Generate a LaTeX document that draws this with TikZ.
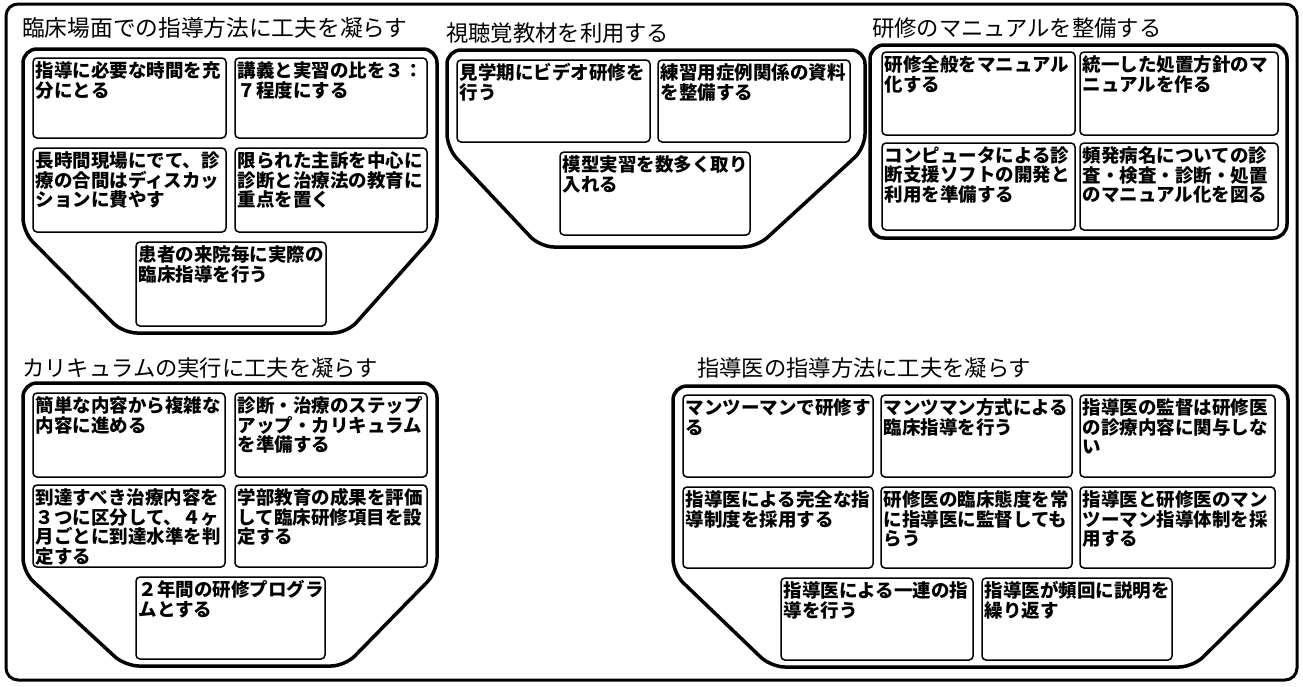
\documentclass[tikz,border=0pt]{standalone}
\usepackage{fontspec}
\newfontfamily\cjk{Noto Sans CJK JP}
\newcommand{\itm}[6]{%
  \node[itembox, minimum width=#4pt, minimum height=#5pt, anchor=north west] (#1) at (#2,#3) {};
  \node[itemtext, anchor=north west] (#1t) at ([xshift=2.5pt,yshift=-3.5pt]#1.north west) {#6};
}
\begin{document}
\begin{tikzpicture}[x=1pt,y=-1pt,
  frame/.style={line width=3pt, rounded corners=12pt},
  group/.style={line width=3.5pt, rounded corners=14pt},
  itembox/.style={draw, line width=1.5pt, rounded corners=4pt, inner sep=0pt, outer sep=0pt},
  itemtext/.style={font=\cjk\bfseries\fontsize{18.5pt}{19.5pt}\selectfont, align=left, inner sep=0pt},
  gtitle/.style={font=\cjk\fontsize{22.3pt}{24pt}\selectfont, inner sep=0pt, anchor=west}]
\useasboundingbox (0,0) rectangle (1303,686);
\draw[frame] (6,4) rectangle (1297,680);

% group 1
\node[gtitle, font=\cjk\fontsize{22.7pt}{24pt}\selectfont] (t1) at (22,28) {臨床場面での指導方法に工夫を凝らす};
\draw[group] (23,49) -- (437,49) -- (437,232) -- (347,333) -- (123,333) -- (23,232) -- cycle;
\itm{g1a}{33}{58}{193}{80}{指導に必要な時間を充\\分にとる}
\itm{g1b}{235}{58}{192}{80}{講義と実習の比を３：\\７程度にする}
\itm{g1c}{33}{148}{193}{84}{長時間現場にでて、診\\療の合間はディスカッ\\ションに費やす}
\itm{g1d}{235}{148}{192}{84}{限られた主訴を中心に\\診断と治療法の教育に\\重点を置く}
\itm{g1e}{136}{242}{190}{84}{患者の来院毎に実際の\\臨床指導を行う}

% group 2
\node[gtitle] (t2) at (446,33) {視聴覚教材を利用する};
\draw[group] (447,50) -- (865,50) -- (865,148) -- (757,247) -- (540,247) -- (447,148) -- cycle;
\itm{g2a}{457}{60}{193}{82}{見学期にビデオ研修を\\行う}
\itm{g2b}{658}{60}{192}{82}{練習用症例関係の資料\\を整備する}
\itm{g2c}{560}{152}{190}{83}{模型実習を数多く取り\\入れる}

% group 3
\node[gtitle] (t3) at (872,28) {研修のマニュアルを整備する};
\draw[group] (870,45) rectangle (1287,238);
\itm{g3a}{882}{52}{193}{83}{研修全般をマニュアル\\化する}
\itm{g3b}{1080}{52}{198}{83}{統一した処置方針のマ\\ニュアルを作る}
\itm{g3c}{882}{143}{193}{87}{コンピュータによる診\\断支援ソフトの開発と\\利用を準備する}
\itm{g3d}{1080}{143}{198}{87}{頻発病名についての診\\査・検査・診断・処置\\のマニュアル化を図る}

% group 4
\node[gtitle] (t4) at (22,368) {カリキュラムの実行に工夫を凝らす};
\draw[group] (23,383) -- (437,383) -- (437,572) -- (345,666) -- (125,666) -- (23,572) -- cycle;
\itm{g4a}{33}{393}{192}{84}{簡単な内容から複雑な\\内容に進める}
\itm{g4b}{235}{393}{192}{84}{診断・治療のステップ\\アップ・カリキュラム\\を準備する}
\itm{g4c}{33}{485}{192}{82}{到達すべき治療内容を\\３つに区分して、４ヶ\\月ごとに到達水準を判\\定する}
\itm{g4d}{235}{485}{192}{82}{学部教育の成果を評価\\して臨床研修項目を設\\定する}
\itm{g4e}{136}{577}{189}{82}{２年間の研修プログラ\\ムとする}

% group 5
\node[gtitle] (t5) at (697,368) {指導医の指導方法に工夫を凝らす};
\draw[group] (673,386) -- (1288,386) -- (1288,573) -- (1193,667) -- (771,667) -- (673,573) -- cycle;
\itm{g5a}{683}{395}{190}{82}{マンツーマンで研修す\\る}
\itm{g5b}{881}{395}{191}{82}{マンツマン方式による\\臨床指導を行う}
\itm{g5c}{1080}{395}{195}{82}{指導医の監督は研修医\\の診療内容に関与しな\\い}
\itm{g5d}{683}{487}{190}{81}{指導医による完全な指\\導制度を採用する}
\itm{g5e}{881}{487}{191}{81}{研修医の臨床態度を常\\に指導医に監督しても\\らう}
\itm{g5f}{1080}{487}{195}{81}{指導医と研修医のマン\\ツーマン指導体制を採\\用する}
\itm{g5g}{781}{578}{192}{82}{指導医による一連の指\\導を行う}
\itm{g5h}{982}{578}{190}{82}{指導医が頻回に説明を\\繰り返す}
\end{tikzpicture}
\end{document}
